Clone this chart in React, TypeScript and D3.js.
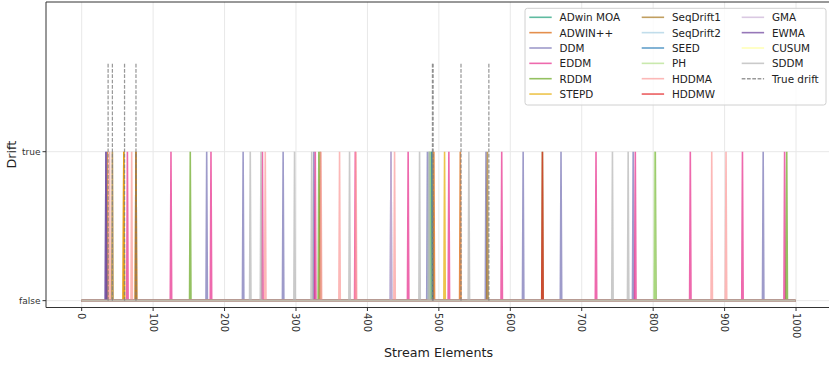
import * as d3 from "d3";
import React, { useEffect, useRef } from "react";

// detection positions (stream element index) per detector
const detectors = [
  "ADwin MOA", "ADWIN++", "DDM", "EDDM", "RDDM", "STEPD",
  "SeqDrift1", "SeqDrift2", "SEED", "PH", "HDDMA", "HDDMW",
  "GMA", "EWMA", "CUSUM", "SDDM",
];
const colours = [
  "#1b9e77", "#d95f02", "#7570b3", "#e7298a", "#66a61e", "#e6ab02",
  "#a6761d", "#a6cee3", "#1f78b4", "#b2df8a", "#fb9a99", "#e31a1c",
  "#cab2d6", "#6a3d9a", "#ffff99", "#b3b3b3",
];
const adwinMoa = [489];
const adwinPP = [36, 59, 76, 493, 530];
const ddm = [34, 175, 226, 282, 325, 433, 484, 566, 618, 671, 772, 954];
const eddm = [64, 125, 181, 253, 327, 383, 457, 514, 588, 720, 775, 852, 925, 984];
const rddm = [152, 332, 487, 645, 803, 987];
const stepd = [59, 508];
const seqDrift1 = [43, 76, 334, 491, 568];
const seqDrift2 = [486];
const seed = [490];
const ph = [488, 802];
const hddma = [39, 70, 257, 335, 361, 384, 438, 882, 902];
const hddmw = [645];
const gma = [433];
const ewma = [34];
const cusum: number[] = [];
const sddm = [236, 251, 298, 322, 375, 473, 486, 542, 743, 765];
const detections = [
  adwinMoa, adwinPP, ddm, eddm, rddm, stepd, seqDrift1, seqDrift2,
  seed, ph, hddma, hddmw, gma, ewma, cusum, sddm,
];
const trueDrifts = [37, 43, 60, 76, 491, 492, 531, 570];
const streamLength = 1000;
const xTicks = [0, 100, 200, 300, 400, 500, 600, 700, 800, 900, 1000];
const yTicks = [0, 1];
const yTickLabels = ["false", "true"];
const driftHeight = 1.6;

const W = 829, H = 367;
const margin = { left: 46, top: 2, right: -2, bottom: 59.5 };

export default function App() {
  const ref = useRef<SVGSVGElement>(null);

  useEffect(() => {
    const svg = d3.select(ref.current);
    svg.selectAll("*").remove();
    const font = "DejaVu Sans, sans-serif";

    const x = d3.scaleLinear().domain([-49.95, 1048.95])
      .range([margin.left, W - margin.right]);
    const y = d3.scaleLinear().domain([-0.046, 2.005])
      .range([H - margin.bottom, margin.top]);
    const [x0, x1] = x.range();
    const [yb, yt] = y.range();

    const defs = svg.append("defs");
    defs.append("clipPath").attr("id", "plot")
      .append("rect").attr("x", x0).attr("y", yt)
      .attr("width", x1 - x0).attr("height", yb - yt);

    // grid
    const grid = svg.append("g").attr("stroke", "#e8e8e8").attr("stroke-width", 1);
    xTicks.forEach(t => grid.append("line")
      .attr("x1", x(t)).attr("x2", x(t)).attr("y1", yt).attr("y2", yb));
    yTicks.forEach(t => grid.append("line")
      .attr("x1", x0).attr("x2", x1).attr("y1", y(t)).attr("y2", y(t)));

    // detector series
    const plot = svg.append("g").attr("clip-path", "url(#plot)");
    const line = d3.line<number>().x((_, i) => x(i)).y(d => y(d));
    detections.forEach((det, k) => {
      const vals = d3.range(streamLength).map(i => (det.includes(i) ? 1 : 0));
      plot.append("path").attr("d", line(vals))
        .attr("fill", "none").attr("stroke", colours[k])
        .attr("stroke-width", 1.6).attr("stroke-opacity", 0.7);
    });

    // true drifts
    trueDrifts.forEach(t => plot.append("line")
      .attr("x1", x(t)).attr("x2", x(t)).attr("y1", y(0)).attr("y2", y(driftHeight))
      .attr("stroke", "#7f7f7f").attr("stroke-width", 1.25)
      .attr("stroke-opacity", 0.8).attr("stroke-dasharray", "3.7,1.6"));

    // spines
    svg.append("line").attr("x1", x0).attr("x2", x0).attr("y1", yt).attr("y2", yb)
      .attr("stroke", "#333").attr("stroke-width", 1);
    svg.append("line").attr("x1", x0).attr("x2", x1).attr("y1", yb).attr("y2", yb)
      .attr("stroke", "#333").attr("stroke-width", 1);
    svg.append("line").attr("x1", x0).attr("x2", x1).attr("y1", yt).attr("y2", yt)
      .attr("stroke", "#333").attr("stroke-width", 1);

    // x axis
    const xa = svg.append("g").attr("font-family", font).attr("font-size", 10).attr("fill", "#333");
    xTicks.forEach(t => {
      xa.append("line").attr("x1", x(t)).attr("x2", x(t)).attr("y1", yb).attr("y2", yb + 3.5)
        .attr("stroke", "#333");
      xa.append("text").attr("transform", `translate(${x(t)},${yb + 5.5}) rotate(90)`)
        .attr("dominant-baseline", "central").text(t);
    });
    svg.append("text").attr("x", (x0 + 831) / 2).attr("y", 357)
      .attr("text-anchor", "middle").attr("font-family", font).attr("font-size", 12.7)
      .attr("fill", "#222").text("Stream Elements");

    // y axis
    const ya = svg.append("g").attr("font-family", font).attr("font-size", 9).attr("fill", "#333");
    yTicks.forEach((t, i) => {
      ya.append("line").attr("x1", x0 - 3.5).attr("x2", x0).attr("y1", y(t)).attr("y2", y(t))
        .attr("stroke", "#333");
      ya.append("text").attr("x", x0 - 5.5).attr("y", y(t)).attr("text-anchor", "end")
        .attr("dominant-baseline", "central").text(yTickLabels[i]);
    });
    svg.append("text").attr("transform", `translate(16,${(yt + yb) / 2}) rotate(-90)`)
      .attr("text-anchor", "middle").attr("font-family", font).attr("font-size", 12.7)
      .attr("fill", "#222").text("Drift");

    // legend
    const lg = svg.append("g").attr("font-family", font).attr("font-size", 10.4).attr("fill", "#222");
    lg.append("rect").attr("x", 525).attr("y", 8.3).attr("width", 301).attr("height", 96.7)
      .attr("rx", 2.5).attr("fill", "white").attr("fill-opacity", 0.8)
      .attr("stroke", "#d0d0d0").attr("stroke-width", 1);
    const colX = [529.3, 641.7, 741.7];
    const entries = detectors.map((name, k) => ({ name, colour: colours[k], dash: false }))
      .concat([{ name: "True drift", colour: "#7f7f7f", dash: true }]);
    entries.forEach((e, i) => {
      const c = Math.floor(i / 6), r = i % 6;
      const cy = 17.3 + r * 15.35;
      lg.append("line").attr("x1", colX[c]).attr("x2", colX[c] + 22.4).attr("y1", cy).attr("y2", cy)
        .attr("stroke", e.colour).attr("stroke-width", 1.6)
        .attr("stroke-opacity", e.dash ? 0.8 : 0.7)
        .attr("stroke-dasharray", e.dash ? "3.7,1.6" : null);
      lg.append("text").attr("x", colX[c] + 30.3).attr("y", cy)
        .attr("dominant-baseline", "central").text(e.name);
    });
  }, []);

  return (
    <svg ref={ref} width={W} height={H}
      style={{ position: "absolute", left: 0, top: 0, background: "white" }} />
  );
}
